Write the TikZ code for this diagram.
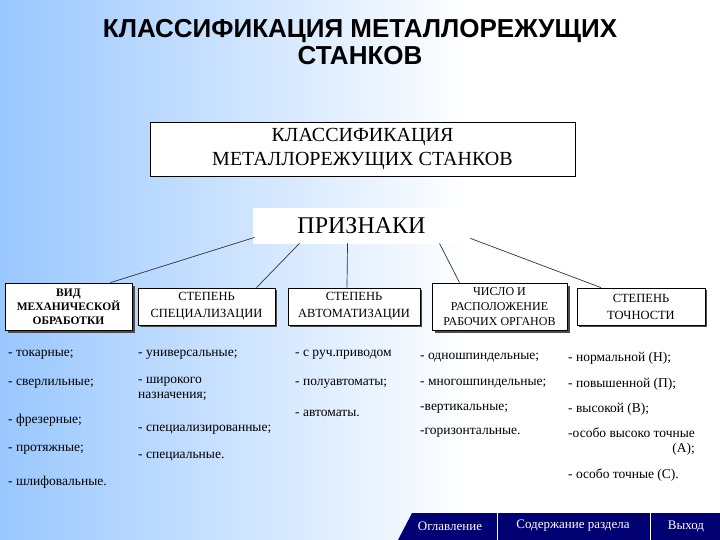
\documentclass[tikz,border=0pt]{standalone}
\usepackage{fontspec}
\setmainfont{Liberation Serif}
\newfontfamily\hd{Liberation Sans}
\begin{document}
\begin{tikzpicture}[x=1pt,y=-1pt,
 box/.style={draw=black,fill=white,line width=0.8pt,align=center,inner sep=1pt},
 shad/.style={fill=black!70},
 itm/.style={anchor=west,font=\fontsize{13.5}{15}\selectfont,inner sep=0pt,align=left},
 conn/.style={draw=black!80,line width=0.7pt}]
\useasboundingbox (0,0) rectangle (720,540);
\fill[white] (0,0) rectangle (720,540);
\shade[left color=cyan!45!blue!40,right color=white] (0,0) rectangle (470,540);
\node[font=\hd\bfseries\fontsize{26}{27}\selectfont,align=center] (title) at (360,42) {КЛАССИФИКАЦИЯ МЕТАЛЛОРЕЖУЩИХ\\СТАНКОВ};
\node[box,minimum width=425,minimum height=54,font=\fontsize{20}{24}\selectfont] (top) at (362.5,149) {КЛАССИФИКАЦИЯ\\МЕТАЛЛОРЕЖУЩИХ СТАНКОВ};
\node[box,minimum width=217,minimum height=35,font=\fontsize{24}{26}\selectfont,draw=white] (pr) at (361.5,225.5) {ПРИЗНАКИ};
\fill[shad] (8,286) rectangle (135,333);
\fill[shad] (435,286) rectangle (570,333);
\fill[shad] (140,290) rectangle (277,327);
\fill[shad] (290,290) rectangle (422,327);
\fill[shad] (579,290) rectangle (707,327);
\node[box,minimum width=127,minimum height=47,font=\fontsize{11.5}{14}\selectfont\bfseries] (b1) at (68.5,306.5) {ВИД\\МЕХАНИЧЕСКОЙ\\ОБРАБОТКИ};
\node[box,minimum width=137,minimum height=37,font=\fontsize{12.5}{17}\selectfont] (b2) at (206.5,306.5) {СТЕПЕНЬ\\СПЕЦИАЛИЗАЦИИ};
\node[box,minimum width=132,minimum height=37,font=\fontsize{12.5}{17}\selectfont] (b3) at (354,306.5) {СТЕПЕНЬ\\АВТОМАТИЗАЦИИ};
\node[box,minimum width=135,minimum height=47,font=\fontsize{12}{15}\selectfont] (b4) at (499.5,306.5) {ЧИСЛО И\\РАСПОЛОЖЕНИЕ\\РАБОЧИХ ОРГАНОВ};
\node[box,minimum width=128,minimum height=37,font=\fontsize{12.5}{17}\selectfont] (b5) at (641,306.5) {СТЕПЕНЬ\\ТОЧНОСТИ};
\draw[conn] (pr.south west)++(2,-6) -- ([xshift=42]b1.north);
\draw[conn] ([xshift=-62]pr.south) -- ([xshift=50]b2.north);
\draw[conn] ([xshift=-14]pr.south) -- ([xshift=-7]b3.north);
\draw[conn] ([xshift=78]pr.south) -- ([xshift=-40]b4.north);
\draw[conn] (pr.south east)++(0,-5) -- ([xshift=-40]b5.north);
\node[itm] (a1) at (8,355) {- токарные;};
\node[itm] (a2) at (8,384) {- сверлильные;};
\node[itm] (a3) at (8,420) {- фрезерные;};
\node[itm] (a4) at (8,450) {- протяжные;};
\node[itm] (a5) at (8,482) {- шлифовальные.};
\node[itm] (c1) at (138,355) {- универсальные;};
\node[itm] (c2) at (138,389) {- широкого\\назначения;};
\node[itm] (c3) at (138,430) {- специализированные;};
\node[itm] (c4) at (138,457) {- специальные.};
\node[itm] (d1) at (295,355) {- с руч.приводом};
\node[itm] (d2) at (295,384) {- полуавтоматы;};
\node[itm] (d3) at (295,413) {- автоматы.};
\node[itm] (e1) at (420,358) {- одношпиндельные;};
\node[itm] (e2) at (420,384) {- многошпиндельные;};
\node[itm] (e3) at (420,409) {-вертикальные;};
\node[itm] (e4) at (420,433) {-горизонтальные.};
\node[itm] (f1) at (568,358) {- нормальной (Н);};
\node[itm] (f2) at (568,384) {- повышенной (П);};
\node[itm] (f3) at (568,409) {- высокой (В);};
\node[itm,align=right] (f4) at (568,442) {-особо высоко точные\\(А);};
\node[itm] (f5) at (568,475) {- особо точные (С).};
\fill[blue!45!black] (412,513) -- (720,513) -- (720,540) -- (398,540) -- cycle;
\draw[white,line width=1pt] (497,513) -- (497,540) (650,513) -- (650,540);
\node[white,font=\fontsize{13}{15}\selectfont] (m1) at (450,526) {Оглавление};
\node[white,font=\fontsize{13}{15}\selectfont] (m2) at (573,526) {Содержание раздела};
\node[white,font=\fontsize{13}{15}\selectfont] (m3) at (686,526) {Выход};
\end{tikzpicture}
\end{document}
